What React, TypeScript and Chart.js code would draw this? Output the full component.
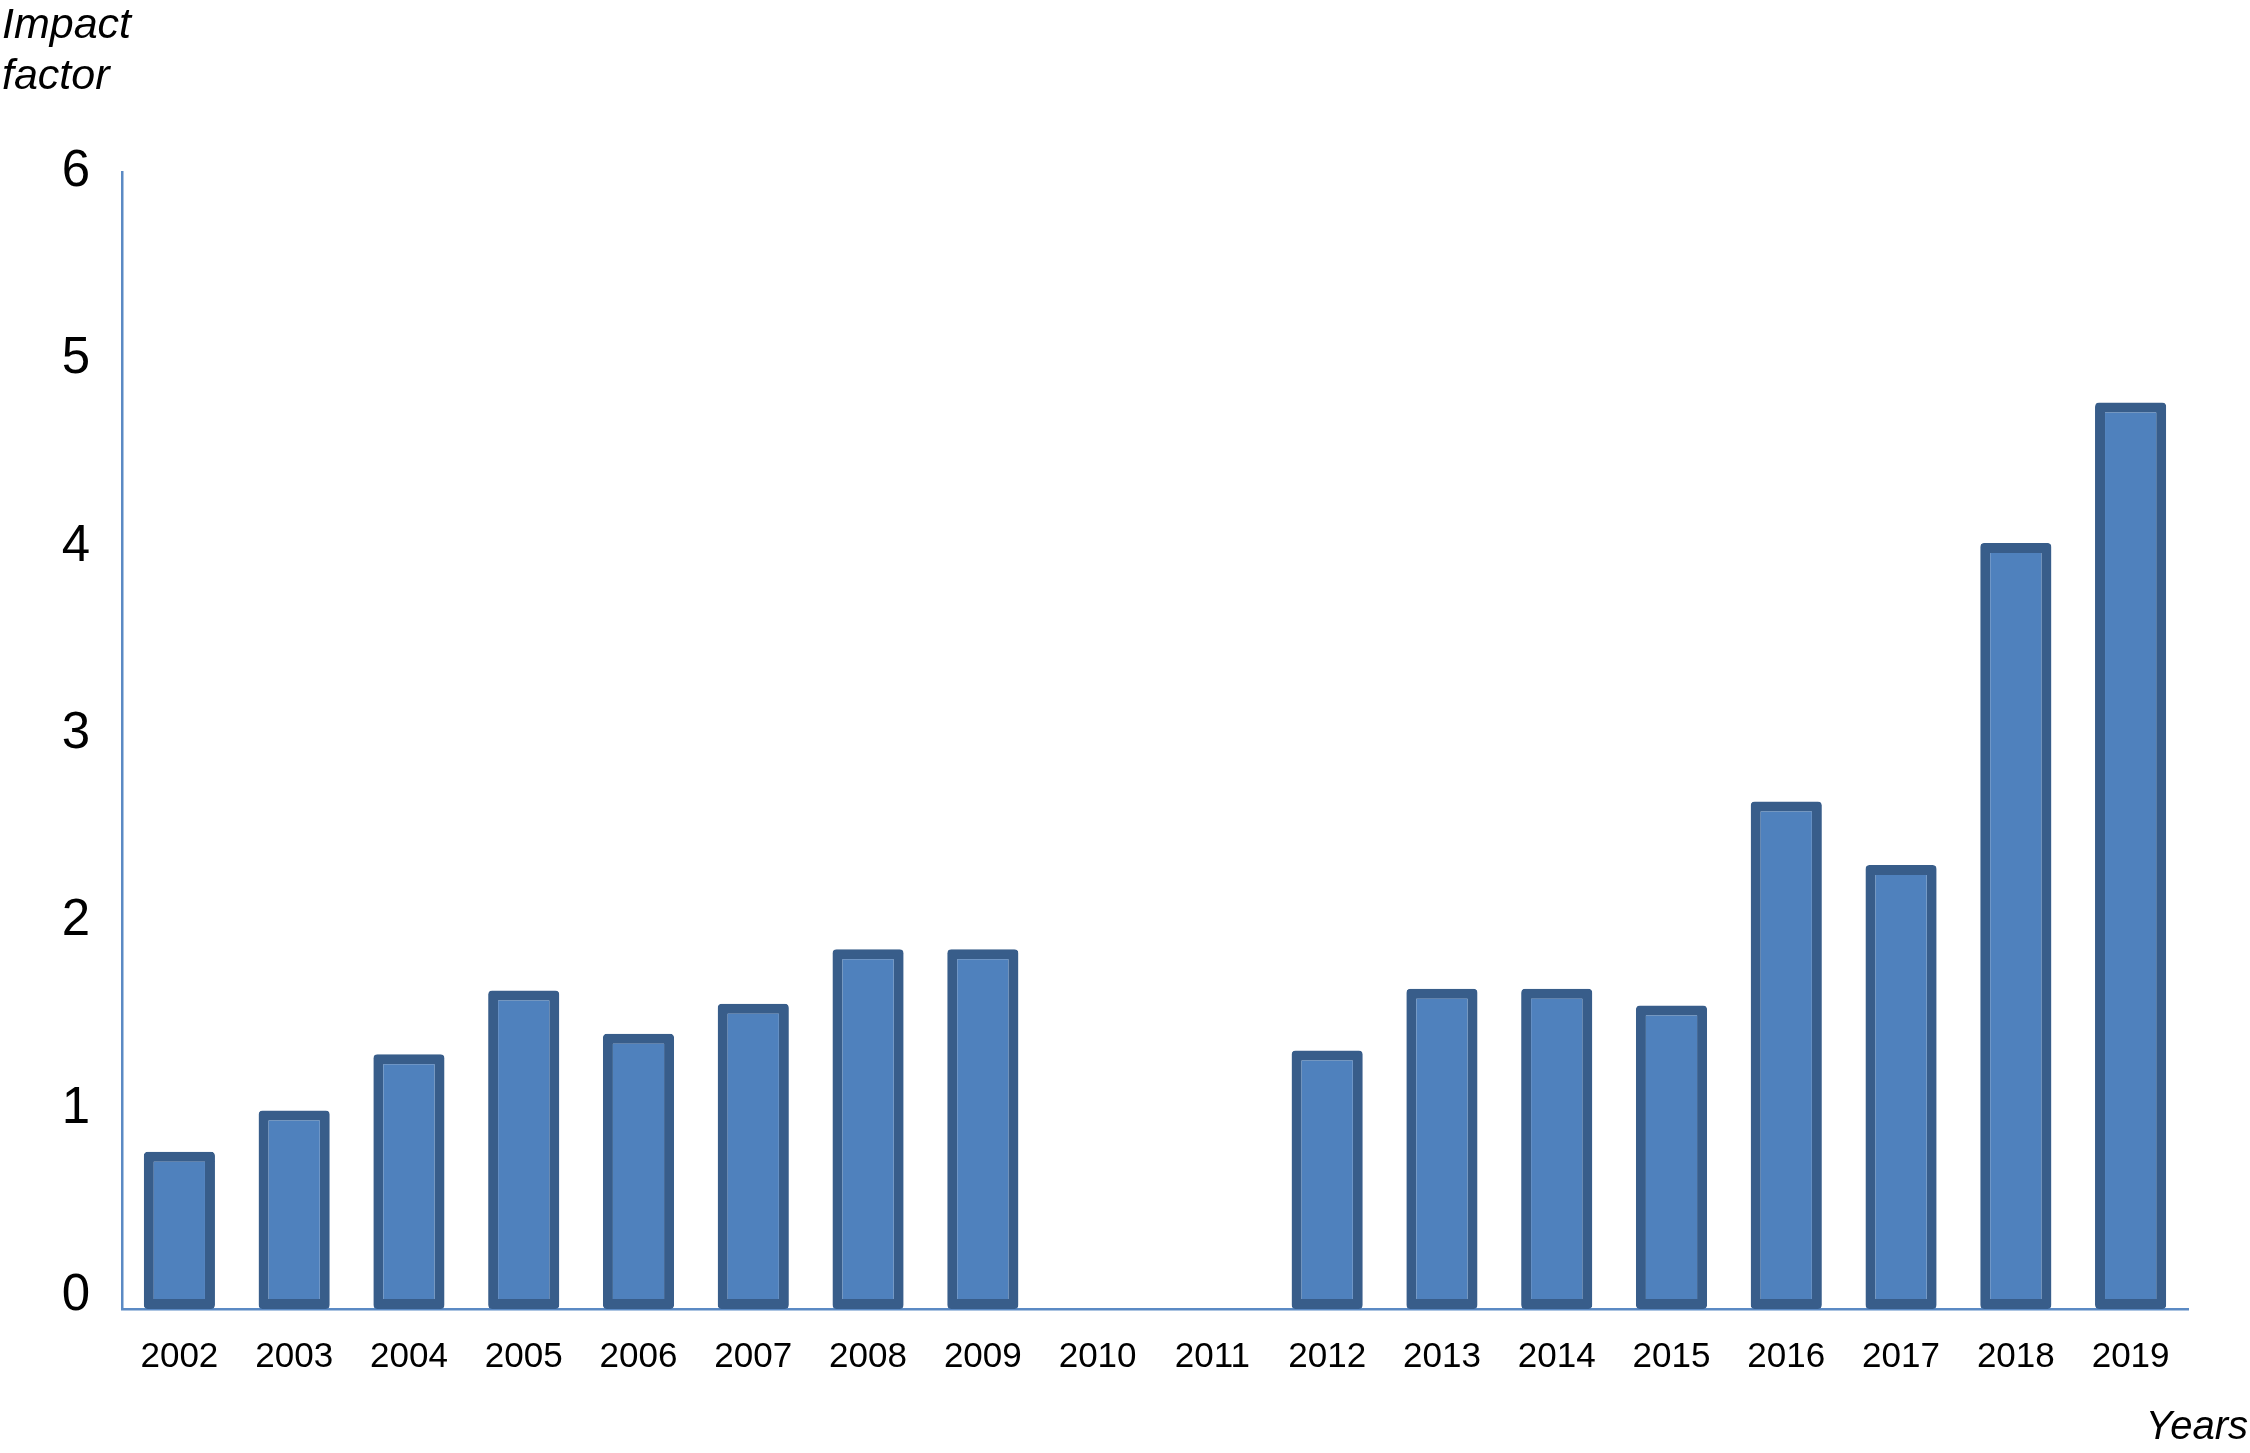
import React, { useEffect, useRef } from "react";
import { Chart, registerables } from "chart.js";

Chart.register(...registerables);

const years = ["2002","2003","2004","2005","2006","2007","2008","2009","2010","2011","2012","2013","2014","2015","2016","2017","2018","2019"];
const impactFactor: (number | null)[] = [0.77, 0.99, 1.29, 1.63, 1.40, 1.56, 1.85, 1.85, null, null, 1.31, 1.64, 1.64, 1.55, 2.64, 2.30, 4.02, 4.77];
const yTicks = [0, 1, 2, 3, 4, 5, 6];
const yTitleLines = ["Impact", "factor"];
const xTitle = "Years";

const W = 2250;
const H = 1453;
const LEFT = 122;
const RIGHT = 2188;
const TOP = 172;
const BOTTOM = 1309;
const YMIN = -0.07;

const titlePlugin = {
  id: "cornerTitles",
  afterDraw(chart: any) {
    const ctx = chart.ctx;
    ctx.save();
    ctx.fillStyle = "#000";
    ctx.font = "italic 43px 'Liberation Sans', Arial, sans-serif";
    ctx.textBaseline = "middle";
    ctx.textAlign = "left";
    ctx.fillText(yTitleLines[0], 2, 26);
    ctx.fillText(yTitleLines[1], 2, 77);
    ctx.textAlign = "right";
    ctx.font = "italic 40px 'Liberation Sans', Arial, sans-serif";
    ctx.fillText(xTitle, W - 2, 1428);
    ctx.restore();
  },
};

export default function App() {
  const ref = useRef<HTMLCanvasElement | null>(null);
  useEffect(() => {
    if (!ref.current) return;
    const chart = new Chart(ref.current, {
      type: "bar",
      data: {
        labels: years,
        datasets: [
          {
            data: impactFactor,
            base: YMIN,
            backgroundColor: "#4F81BD",
            borderColor: "#385D8A",
            borderWidth: 10,
            borderRadius: 4,
            borderSkipped: false,
            barPercentage: 0.62,
            categoryPercentage: 1,
          } as any,
        ],
      },
      options: {
        responsive: false,
        animation: false,
        maintainAspectRatio: false,
        layout: { padding: { left: 0, right: W - RIGHT, top: TOP, bottom: 0 } },
        plugins: { legend: { display: false }, tooltip: { enabled: false }, title: { display: false } },
        scales: {
          x: {
            type: "category",
            grid: { display: false, drawTicks: false },
            border: { display: true, color: "#5B8AC4", width: 2.5 },
            ticks: {
              color: "#000",
              padding: 27,
              maxRotation: 0,
              autoSkip: false,
              font: { family: "'Liberation Sans', Arial, sans-serif", size: 35 },
            },
            afterFit(scale: any) {
              scale.height = H - BOTTOM;
            },
          },
          y: {
            min: YMIN,
            max: 6,
            afterBuildTicks(scale: any) {
              scale.ticks = yTicks.map((v) => ({ value: v }));
            },
            grid: { display: false, drawTicks: false },
            border: { display: true, color: "#5B8AC4", width: 2.5 },
            ticks: {
              color: "#000",
              padding: 32,
              font: { family: "'Liberation Sans', Arial, sans-serif", size: 51 },
            },
            afterFit(scale: any) {
              scale.width = LEFT;
            },
          },
        },
      },
      plugins: [titlePlugin],
    });
    return () => chart.destroy();
  }, []);
  return (
    <canvas
      ref={ref}
      width={W}
      height={H}
      style={{ position: "absolute", left: 0, top: 0, width: W, height: H, background: "#fff" }}
    />
  );
}
